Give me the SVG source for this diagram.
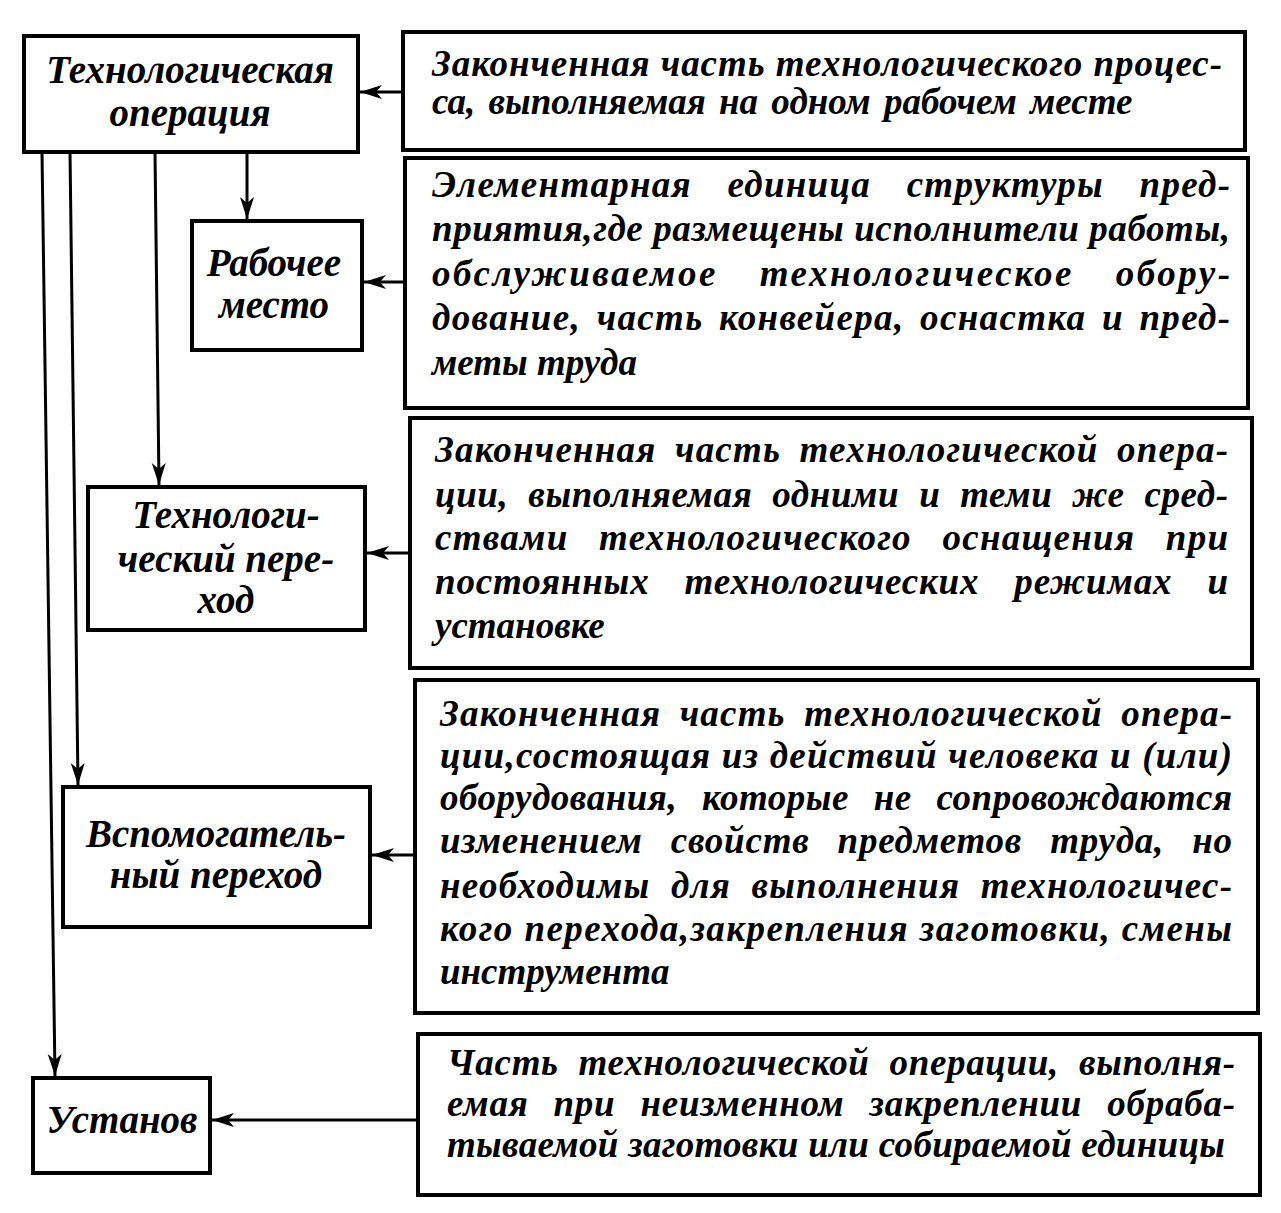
<svg xmlns="http://www.w3.org/2000/svg" width="1281" height="1213" viewBox="0 0 1281 1213">
<defs>
<marker id="arr" markerUnits="userSpaceOnUse" markerWidth="24" markerHeight="16" refX="22" refY="8" orient="auto">
<path d="M0,1 L22,8 L0,15 L6,8 Z" fill="#000"/>
</marker>
<style>
.box{fill:#fff;stroke:#000;stroke-width:4}
.lt{font-family:"Liberation Serif","DejaVu Serif",serif;font-weight:bold;font-style:italic;font-size:39px;fill:#000;text-anchor:middle}
.rt{font-family:"Liberation Serif","DejaVu Serif",serif;font-weight:bold;font-style:italic;font-size:37px;fill:#000}
.cn{fill:none;stroke:#000;stroke-width:3;marker-end:url(#arr)}
</style>
</defs>
<rect width="1281" height="1213" fill="#fff"/>

<g id="connectors">
<line class="cn" x1="403" y1="92" x2="360" y2="92"/>
<line class="cn" x1="406" y1="282" x2="364" y2="282"/>
<line class="cn" x1="410" y1="553" x2="367" y2="553"/>
<line class="cn" x1="415" y1="855" x2="372" y2="855"/>
<line class="cn" x1="418" y1="1120" x2="212" y2="1120"/>
<line class="cn" x1="247" y1="152" x2="247" y2="219"/>
<line class="cn" x1="155" y1="152" x2="159" y2="485"/>
<line class="cn" x1="70" y1="152" x2="78" y2="785"/>
<line class="cn" x1="42" y1="152" x2="55" y2="1076"/>
</g>

<g id="n-operation">
<rect class="box" x="24" y="36" width="334" height="116"/>
<text class="lt" x="190" y="83">Технологическая</text>
<text class="lt" x="190" y="126">операция</text>
</g>
<g id="n-workplace">
<rect class="box" x="192" y="221" width="170" height="129"/>
<text class="lt" x="274" y="276">Рабочее</text>
<text class="lt" x="274" y="318">место</text>
</g>
<g id="n-techstep">
<rect class="box" x="88" y="487" width="277" height="143"/>
<text class="lt" x="226" y="528">Технологи-</text>
<text class="lt" x="226" y="572">ческий пере-</text>
<text class="lt" x="226" y="613">ход</text>
</g>
<g id="n-auxstep">
<rect class="box" x="63" y="787" width="307" height="140"/>
<text class="lt" x="216" y="847">Вспомогатель-</text>
<text class="lt" x="216" y="888">ный переход</text>
</g>
<g id="n-setup">
<rect class="box" x="33" y="1078" width="177" height="95"/>
<text class="lt" x="122" y="1133">Установ</text>
</g>

<g id="d-operation">
<rect class="box" x="403" y="32" width="842" height="118"/>
<text class="rt" x="432" y="76" textLength="790" lengthAdjust="spacing">Законченная часть технологического процес-</text>
<text class="rt" x="432" y="114" word-spacing="4">са, выполняемая на одном рабочем  месте</text>
</g>
<g id="d-workplace">
<rect class="box" x="405" y="158" width="843" height="250"/>
<text class="rt" x="432" y="197" word-spacing="25" textLength="798" lengthAdjust="spacing">Элементарная единица структуры пред-</text>
<text class="rt" x="432" y="241" textLength="798" lengthAdjust="spacing">приятия,где размещены исполнители работы,</text>
<text class="rt" x="432" y="286" word-spacing="30" textLength="798" lengthAdjust="spacing">обслуживаемое технологическое обору-</text>
<text class="rt" x="432" y="330" word-spacing="5" textLength="798" lengthAdjust="spacing">дование, часть конвейера, оснастка и пред-</text>
<text class="rt" x="432" y="375">меты труда</text>
</g>
<g id="d-techstep">
<rect class="box" x="410" y="418" width="842" height="250"/>
<text class="rt" x="435" y="462" word-spacing="8" textLength="793" lengthAdjust="spacing">Законченная часть технологической опера-</text>
<text class="rt" x="435" y="507" word-spacing="10" textLength="793" lengthAdjust="spacing">ции, выполняемая одними и теми же сред-</text>
<text class="rt" x="435" y="550" word-spacing="20" textLength="793" lengthAdjust="spacing">ствами технологического оснащения при</text>
<text class="rt" x="435" y="594" word-spacing="25" textLength="793" lengthAdjust="spacing">постоянных технологических режимах и</text>
<text class="rt" x="435" y="638">установке</text>
</g>
<g id="d-auxstep">
<rect class="box" x="415" y="680" width="843" height="333"/>
<text class="rt" x="440" y="726" word-spacing="8" textLength="792" lengthAdjust="spacing">Законченная часть технологической опера-</text>
<text class="rt" x="440" y="768" textLength="792" lengthAdjust="spacing">ции,состоящая из действий человека и (или)</text>
<text class="rt" x="440" y="810" word-spacing="15" textLength="792" lengthAdjust="spacing">оборудования, которые не сопровождаются</text>
<text class="rt" x="440" y="853" word-spacing="18" textLength="792" lengthAdjust="spacing">изменением свойств предметов труда, но</text>
<text class="rt" x="440" y="898" word-spacing="10" textLength="792" lengthAdjust="spacing">необходимы для выполнения технологичес-</text>
<text class="rt" x="440" y="941" textLength="792" lengthAdjust="spacing">кого перехода,закрепления заготовки, смены</text>
<text class="rt" x="440" y="984">инструмента</text>
</g>
<g id="d-setup">
<rect class="box" x="418" y="1034" width="842" height="161"/>
<text class="rt" x="447" y="1075" word-spacing="10" textLength="788" lengthAdjust="spacing">Часть технологической операции, выполня-</text>
<text class="rt" x="447" y="1116" word-spacing="15" textLength="788" lengthAdjust="spacing">емая при неизменном закреплении обраба-</text>
<text class="rt" x="447" y="1157" textLength="778" lengthAdjust="spacing">тываемой заготовки или собираемой единицы</text>
</g>
</svg>
